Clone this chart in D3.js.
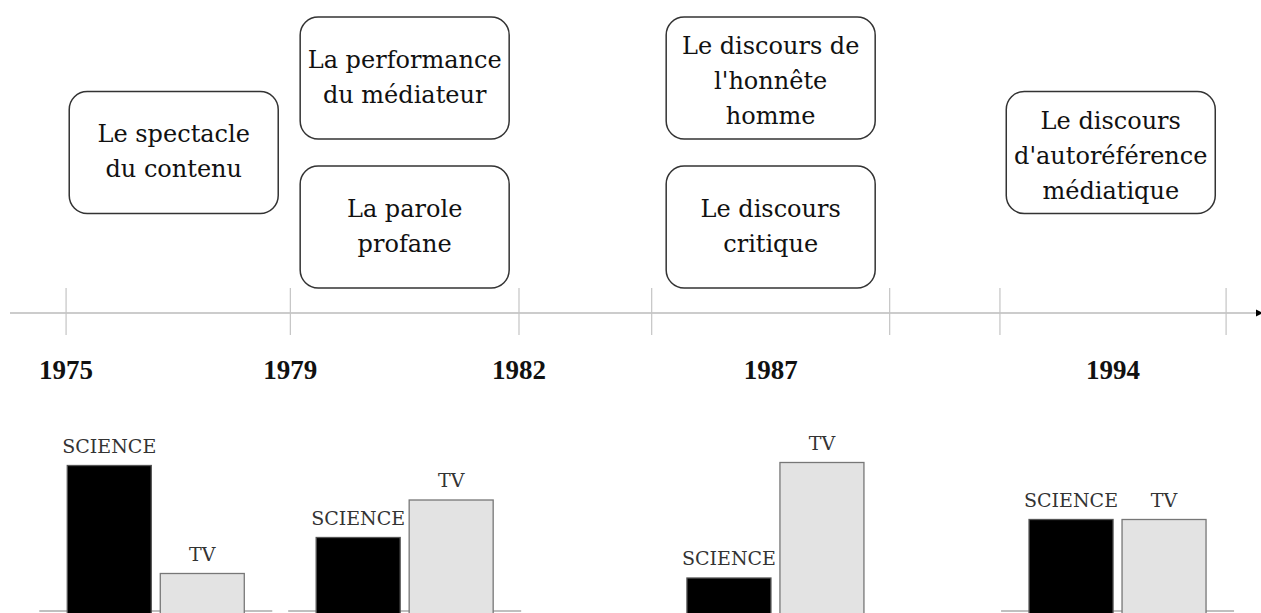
<!DOCTYPE html>
<meta charset="utf-8">
<style>
body { margin: 0; background: #fff; }
.box rect { fill: #fff; stroke: #333; stroke-width: 1.5px; }
.box text { font: 24px "DejaVu Serif", serif; fill: #111; text-anchor: middle; }
.year { font: bold 27px "Liberation Serif", serif; fill: #111; text-anchor: middle; }
.barlabel { font: 19px "DejaVu Serif", serif; fill: #333; text-anchor: middle; }
</style>
<svg width="1261" height="613"></svg>
<script src="https://cdn.jsdelivr.net/npm/d3@7"></script>
<script>

// timeline, in percent of the axis length
var tickPos = [4.5, 22.5, 40.85, 51.5, 70.6, 79.45, 97.6];

// year labels, anchored on a tick index (x.5 = middle of a period)
var years = ["1975", "1979", "1982", "1987", "1994"];
var yearAt = [0, 1, 2, 3.5, 5.5];

// boxes: lines of text, place on the tick index, row
var boxText = [
  ["Le spectacle", "du contenu"],
  ["La performance", "du médiateur"],
  ["La parole", "profane"],
  ["Le discours de", "l'honnête", "homme"],
  ["Le discours", "critique"],
  ["Le discours", "d'autoréférence", "médiatique"]
];
var boxAt = [0.48, 1.5, 1.5, 3.5, 3.5, 5.49];
var boxRow = ["middle", "top", "bottom", "top", "bottom", "middle"];

// bar groups under the axis
var series = ["SCIENCE", "TV"];
var groupAt = [0.4, 1.5, 3.52, 5.52];
var science = [97, 49, 22, 61];
var tv = [25, 74, 99, 61];
var showBase = [true, true, false, true];

var svg = d3.select("svg"),
    width = +svg.attr("width"),
    height = +svg.attr("height");

var x = d3.scaleLinear().domain([0, 100]).range([10, 1256]);

function tickAt(i) {
  var a = Math.floor(i), b = Math.ceil(i), t = i - a;
  return x(tickPos[a] + (tickPos[b] - tickPos[a]) * t);
}

var axisY = 313;

// axis line + arrow
svg.append("defs").append("marker")
    .attr("id", "arrow")
    .attr("viewBox", "0 0 10 10")
    .attr("refX", 2).attr("refY", 5)
    .attr("markerWidth", 5).attr("markerHeight", 5)
    .attr("orient", "auto")
  .append("path")
    .attr("d", "M0,0L10,5L0,10z")
    .attr("fill", "#000");

svg.append("line")
    .attr("x1", x(0)).attr("x2", x(100) + 1)
    .attr("y1", axisY).attr("y2", axisY)
    .attr("stroke", "#bbb")
    .attr("stroke-width", 1.5)
    .attr("marker-end", "url(#arrow)");

svg.selectAll(".tick")
  .data(tickPos)
  .enter().append("line")
    .attr("class", "tick")
    .attr("x1", function(d) { return x(d); })
    .attr("x2", function(d) { return x(d); })
    .attr("y1", axisY - 25).attr("y2", axisY + 22)
    .attr("stroke", "#c4c4c4")
    .attr("stroke-width", 1.2);

svg.selectAll(".year")
  .data(years)
  .enter().append("text")
    .attr("class", "year")
    .attr("x", function(d, i) { return tickAt(yearAt[i]); })
    .attr("y", 379)
    .text(function(d) { return d; });

// boxes
var boxW = 209, boxH = 122, lineH = 35;
var rowY = d3.scalePoint().domain(["top", "middle", "bottom"]).range([17, 166]);

var box = svg.selectAll(".box")
  .data(boxText)
  .enter().append("g")
    .attr("class", "box")
    .attr("transform", function(d, i) {
      return "translate(" + (tickAt(boxAt[i]) - boxW / 2) + "," + rowY(boxRow[i]) + ")";
    });

box.append("rect")
    .attr("width", boxW)
    .attr("height", boxH)
    .attr("rx", 18).attr("ry", 18);

box.each(function(lines) {
  var n = lines.length;
  d3.select(this).selectAll("text")
    .data(lines)
    .enter().append("text")
      .attr("x", boxW / 2)
      .attr("y", function(d, j) { return boxH / 2 + (j - (n - 1) / 2) * lineH + (n == 3 ? 11 : 7); })
      .text(function(d) { return d; });
});

// bars
var base = 611, barW = 84, gap = 9, baseW = 233;
var y = d3.scaleLinear().domain([0, 100]).range([base, base - 150]);

var groups = groupAt.map(function(a, i) {
  return { at: a, values: [science[i], tv[i]], base: showBase[i] };
});

var g = svg.selectAll(".group")
  .data(groups)
  .enter().append("g")
    .attr("class", "group")
    .attr("transform", function(d) { return "translate(" + tickAt(d.at) + ",0)"; });

g.filter(function(d) { return d.base; })
  .append("line")
    .attr("x1", -baseW / 2).attr("x2", baseW / 2)
    .attr("y1", base).attr("y2", base)
    .attr("stroke", "#aaa")
    .attr("stroke-width", 1.5);

var bx = d3.scaleBand().domain(series)
    .range([-(barW + gap / 2), barW + gap / 2])
    .paddingInner(gap / (barW + gap));

g.selectAll("rect")
  .data(function(d) { return d.values.map(function(v, k) { return { s: series[k], v: v }; }); })
  .enter().append("rect")
    .attr("x", function(d) { return bx(d.s); })
    .attr("width", bx.bandwidth())
    .attr("y", function(d) { return y(d.v); })
    .attr("height", function(d) { return base + 5 - y(d.v); })
    .attr("fill", function(d) { return d.s == "TV" ? "#e3e3e3" : "#000"; })
    .attr("stroke", function(d) { return d.s == "TV" ? "#777" : "#555"; })
    .attr("stroke-width", 1.3);

g.selectAll(".barlabel")
  .data(function(d) { return d.values.map(function(v, k) { return { s: series[k], v: v }; }); })
  .enter().append("text")
    .attr("class", "barlabel")
    .attr("x", function(d) { return bx(d.s) + bx.bandwidth() / 2; })
    .attr("y", function(d) { return y(d.v) - 13; })
    .text(function(d) { return d.s; });

</script>
